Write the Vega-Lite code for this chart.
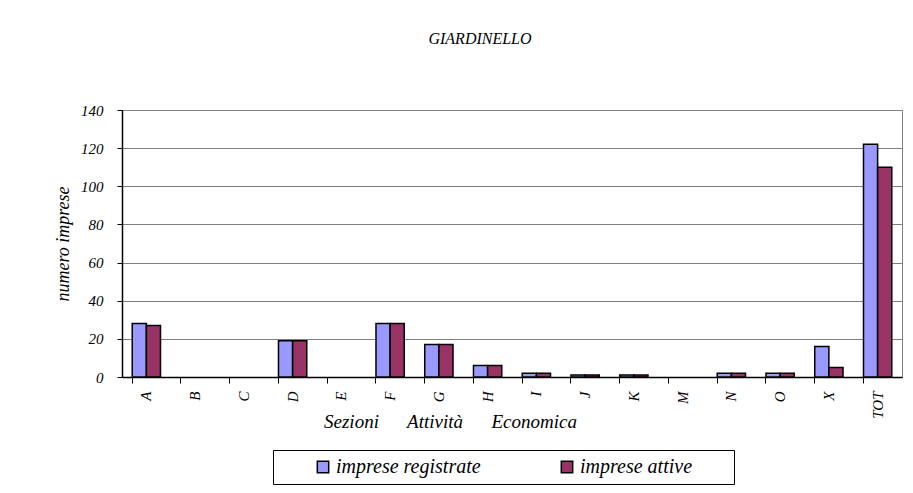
{
  "$schema": "https://vega.github.io/schema/vega-lite/v6.json",
  "autosize": "none",
  "width": 780,
  "height": 267,
  "padding": {"left": 122, "top": 110, "right": 11, "bottom": 116},
  "background": "white",
  "title": {
    "text": "GIARDINELLO",
    "font": "Liberation Serif",
    "fontStyle": "italic",
    "fontWeight": "normal",
    "fontSize": 16,
    "color": "black",
    "anchor": "middle",
    "offset": 56,
    "dx": -32
  },
  "config": {
    "view": {"stroke": "#808080", "strokeWidth": 1},
    "font": "Liberation Serif"
  },
  "data": {
    "values": [
      {"sezione": "A", "serie": "imprese registrate", "valore": 28},
      {"sezione": "A", "serie": "imprese attive", "valore": 27},
      {"sezione": "B", "serie": "imprese registrate", "valore": 0},
      {"sezione": "B", "serie": "imprese attive", "valore": 0},
      {"sezione": "C", "serie": "imprese registrate", "valore": 0},
      {"sezione": "C", "serie": "imprese attive", "valore": 0},
      {"sezione": "D", "serie": "imprese registrate", "valore": 19},
      {"sezione": "D", "serie": "imprese attive", "valore": 19},
      {"sezione": "E", "serie": "imprese registrate", "valore": 0},
      {"sezione": "E", "serie": "imprese attive", "valore": 0},
      {"sezione": "F", "serie": "imprese registrate", "valore": 28},
      {"sezione": "F", "serie": "imprese attive", "valore": 28},
      {"sezione": "G", "serie": "imprese registrate", "valore": 17},
      {"sezione": "G", "serie": "imprese attive", "valore": 17},
      {"sezione": "H", "serie": "imprese registrate", "valore": 6},
      {"sezione": "H", "serie": "imprese attive", "valore": 6},
      {"sezione": "I", "serie": "imprese registrate", "valore": 2},
      {"sezione": "I", "serie": "imprese attive", "valore": 2},
      {"sezione": "J", "serie": "imprese registrate", "valore": 1},
      {"sezione": "J", "serie": "imprese attive", "valore": 1},
      {"sezione": "K", "serie": "imprese registrate", "valore": 1},
      {"sezione": "K", "serie": "imprese attive", "valore": 1},
      {"sezione": "M", "serie": "imprese registrate", "valore": 0},
      {"sezione": "M", "serie": "imprese attive", "valore": 0},
      {"sezione": "N", "serie": "imprese registrate", "valore": 2},
      {"sezione": "N", "serie": "imprese attive", "valore": 2},
      {"sezione": "O", "serie": "imprese registrate", "valore": 2},
      {"sezione": "O", "serie": "imprese attive", "valore": 2},
      {"sezione": "X", "serie": "imprese registrate", "valore": 16},
      {"sezione": "X", "serie": "imprese attive", "valore": 5},
      {"sezione": "TOT", "serie": "imprese registrate", "valore": 122},
      {"sezione": "TOT", "serie": "imprese attive", "valore": 110}
    ]
  },
  "mark": {"type": "bar", "stroke": "black", "strokeWidth": 1.5},
  "encoding": {
    "x": {
      "field": "sezione",
      "type": "nominal",
      "sort": ["A","B","C","D","E","F","G","H","I","J","K","M","N","O","X","TOT"],
      "scale": {"paddingInner": 0.42, "paddingOuter": 0.21},
      "axis": {
        "title": "Sezioni\u00a0\u00a0\u00a0\u00a0\u00a0 Attività\u00a0\u00a0\u00a0\u00a0\u00a0 Economica",
        "titleFont": "Liberation Serif",
        "titleFontStyle": "italic",
        "titleFontWeight": "normal",
        "titleFontSize": 19,
        "titleColor": "black",
        "titleX": 328,
        "titleY": 50,
        "titleBaseline": "alphabetic",
        "titleAnchor": "middle",
        "titleAlign": "center",
        "labelAngle": -90,
        "labelFont": "Liberation Serif",
        "labelFontStyle": "italic",
        "labelFontSize": 15,
        "labelColor": "black",
        "labelPadding": 8,
        "bandPosition": 0,
        "ticks": true,
        "tickSize": 6,
        "tickColor": "black",
        "domainColor": "black",
        "domainWidth": 1.5,
        "grid": false
      }
    },
    "xOffset": {
      "field": "serie",
      "type": "nominal",
      "sort": ["imprese registrate", "imprese attive"],
      "scale": {"paddingInner": 0, "paddingOuter": 0}
    },
    "y": {
      "field": "valore",
      "type": "quantitative",
      "scale": {"domain": [0, 140], "nice": false},
      "axis": {
        "values": [0, 20, 40, 60, 80, 100, 120, 140],
        "title": "numero imprese",
        "titleFont": "Liberation Serif",
        "titleFontStyle": "italic",
        "titleFontWeight": "normal",
        "titleFontSize": 18,
        "titleColor": "black",
        "titlePadding": 8,
        "labelFont": "Liberation Serif",
        "labelFontStyle": "italic",
        "labelFontSize": 15,
        "labelColor": "black",
        "labelPadding": 14,
        "tickSize": 5,
        "tickColor": "black",
        "domainColor": "black",
        "domainWidth": 1.5,
        "gridColor": "#808080",
        "gridWidth": 1
      }
    },
    "strokeOpacity": {
      "condition": {"test": "datum.valore > 0", "value": 1},
      "value": 0
    },
    "color": {
      "field": "serie",
      "type": "nominal",
      "sort": ["imprese registrate", "imprese attive"],
      "scale": {"domain": ["imprese registrate", "imprese attive"], "range": ["#9999FF", "#993366"]},
      "legend": {
        "title": "\u00a0",
        "titleOrient": "right",
        "titlePadding": 35,
        "titleFontSize": 20,
        "orient": "none",
        "legendX": 151,
        "legendY": 340,
        "direction": "horizontal",
        "columns": 2,
        "columnPadding": 43,
        "strokeColor": "black",
        "padding": 7,
        "symbolType": "square",
        "symbolSize": 130,
        "symbolStrokeColor": "black",
        "symbolStrokeWidth": 1.5,
        "symbolOffset": 33,
        "labelOffset": 3,
        "labelFont": "Liberation Serif",
        "labelFontStyle": "italic",
        "labelFontSize": 20,
        "labelColor": "black",
        "labelLimit": 400
      }
    }
  }
}
